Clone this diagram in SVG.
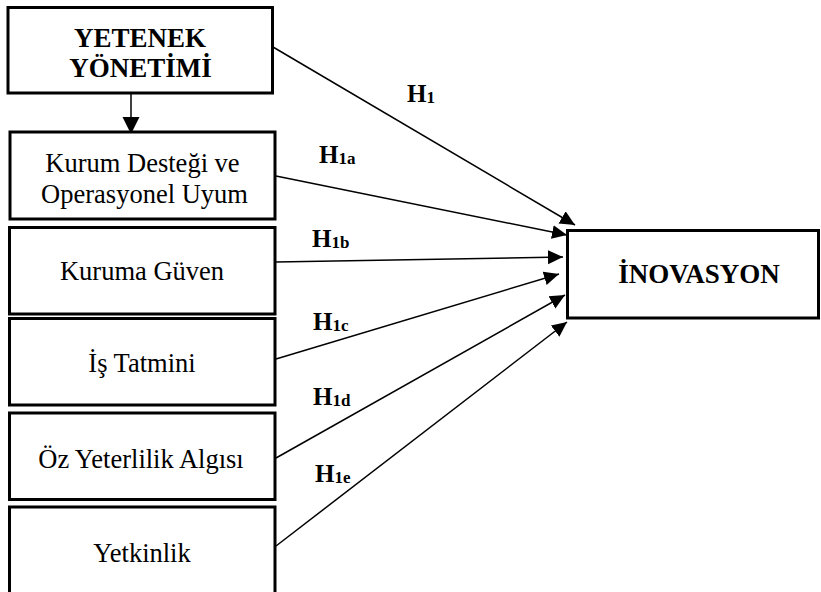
<svg xmlns="http://www.w3.org/2000/svg" width="821" height="592" viewBox="0 0 821 592">
<style>
.box{fill:#fff;stroke:#000;stroke-width:3}
.t{font-family:"Liberation Serif",Tinos,"Times New Roman",Times,"DejaVu Serif","Noto Serif",serif;font-size:26.5px;fill:#000;text-anchor:middle}
.b{font-weight:bold;font-size:27px}
.h{font-family:"Liberation Serif",Tinos,"Times New Roman",Times,"DejaVu Serif","Noto Serif",serif;font-size:25px;font-weight:bold;fill:#000}
.s{font-size:17px}
.c{stroke:#000;stroke-width:1.5;fill:none;marker-end:url(#ah)}
</style>
<defs>
<marker id="ah" markerUnits="userSpaceOnUse" markerWidth="16" markerHeight="16" viewBox="0 0 16 16" refX="15" refY="8" orient="auto">
<path d="M0,1 L15,8 L0,15 Z" fill="#000"/>
</marker>
<marker id="ah2" markerUnits="userSpaceOnUse" markerWidth="18" markerHeight="18" viewBox="0 0 18 18" refX="17" refY="9" orient="auto">
<path d="M0,0.5 L17,9 L0,17.5 Z" fill="#000"/>
</marker>
</defs>
<rect width="821" height="592" fill="#fff"/>
<g id="connectors">
<line x1="131" y1="94" x2="131" y2="134" stroke="#000" stroke-width="1.5" marker-end="url(#ah2)"/>
<line class="c" x1="273" y1="47" x2="575" y2="225"/>
<line class="c" x1="276" y1="176" x2="567" y2="235"/>
<line class="c" x1="276" y1="262" x2="563" y2="257"/>
<line class="c" x1="276" y1="359" x2="559" y2="274"/>
<line class="c" x1="276" y1="458" x2="565" y2="295"/>
<line class="c" x1="276" y1="546" x2="567" y2="322"/>
</g>
<g id="labels">
<text class="h" x="407" y="102">H<tspan class="s" dy="1">1</tspan></text>
<text class="h" x="319" y="163">H<tspan class="s" dy="1">1a</tspan></text>
<text class="h" x="312" y="247">H<tspan class="s" dy="1">1b</tspan></text>
<text class="h" x="313" y="330">H<tspan class="s" dy="1">1c</tspan></text>
<text class="h" x="313" y="405">H<tspan class="s" dy="1">1d</tspan></text>
<text class="h" x="315" y="482">H<tspan class="s" dy="1">1e</tspan></text>
</g>
<g id="yetenek">
<rect class="box" x="8" y="7.5" width="264.5" height="85.5"/>
<text class="t b" x="140" y="46.5">YETENEK</text>
<text class="t b" x="140.5" y="77">YÖNETİMİ</text>
</g>
<g id="kurum-destegi">
<rect class="box" x="10" y="132" width="265" height="87"/>
<text class="t" x="142.5" y="172">Kurum Desteği ve</text>
<text class="t" x="144.5" y="203">Operasyonel Uyum</text>
</g>
<g id="kuruma-guven">
<rect class="box" x="9.5" y="227.5" width="265.5" height="86.5"/>
<text class="t" x="142" y="280">Kuruma Güven</text>
</g>
<g id="is-tatmini">
<rect class="box" x="9.5" y="318.5" width="265.5" height="86.5"/>
<text class="t" x="142" y="372">İş Tatmini</text>
</g>
<g id="oz-yeterlilik">
<rect class="box" x="9.5" y="413" width="265.5" height="86.5"/>
<text class="t" x="141" y="468">Öz Yeterlilik Algısı</text>
</g>
<g id="yetkinlik">
<rect class="box" x="9.5" y="507" width="265.5" height="92"/>
<text class="t" x="142" y="562">Yetkinlik</text>
</g>
<g id="inovasyon">
<rect class="box" x="567.5" y="230.5" width="251" height="87.5"/>
<text class="t b" x="699" y="283">İNOVASYON</text>
</g>
</svg>
